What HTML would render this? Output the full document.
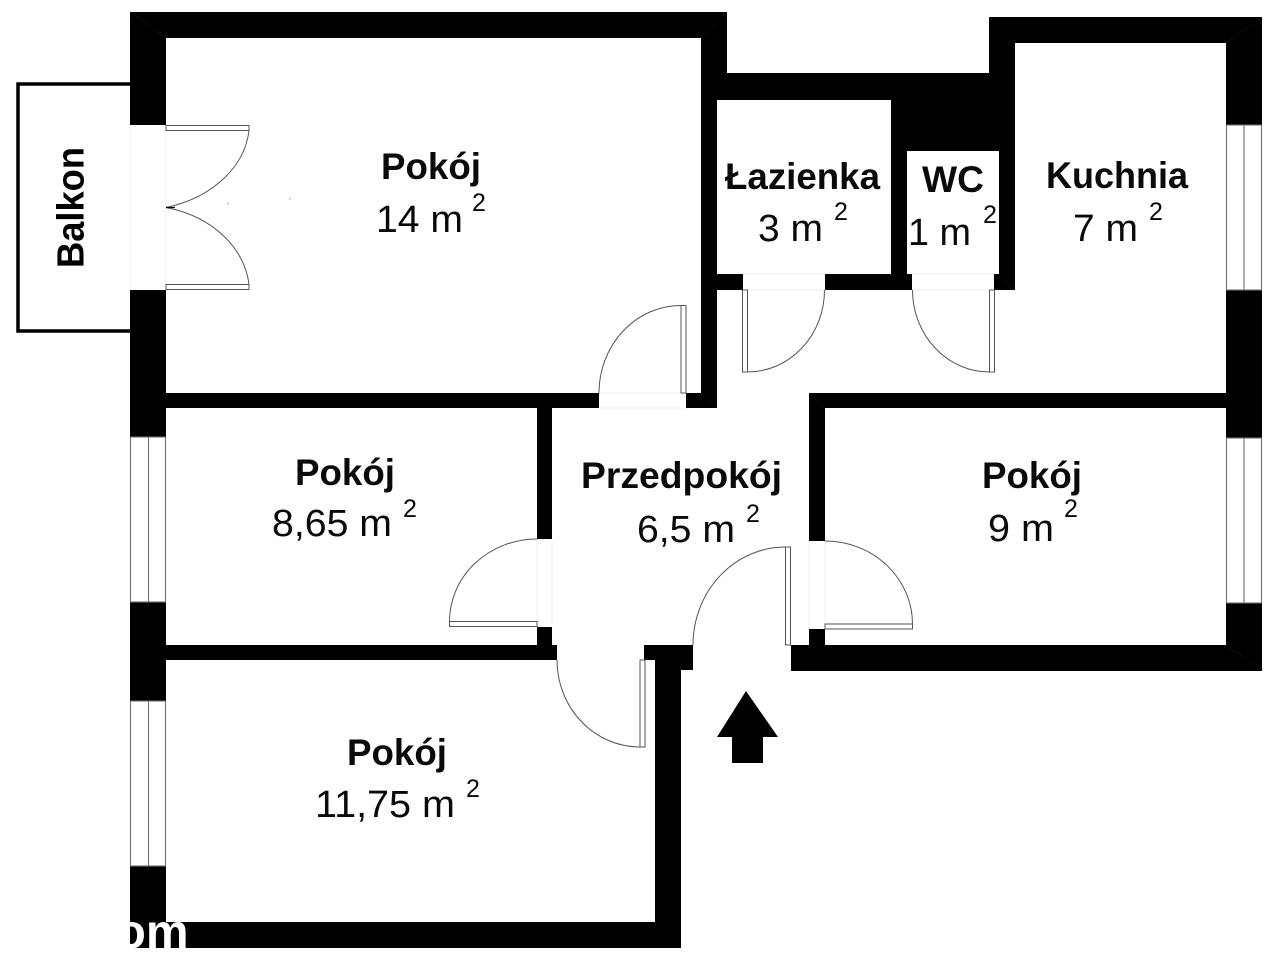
<!DOCTYPE html>
<html lang="pl">
<head>
<meta charset="utf-8">
<title>Rzut mieszkania</title>
<style>
html,body{margin:0;padding:0;background:#fff;width:1280px;height:960px;overflow:hidden}
svg{display:block}
text{font-family:"Liberation Sans",sans-serif;fill:#0a0a0a}
.b{font-weight:700;font-size:37px}
.n{font-size:38px}
.s{font-size:25px}
</style>
</head>
<body>
<svg width="1280" height="960" viewBox="0 0 1280 960" xmlns="http://www.w3.org/2000/svg">
<rect width="1280" height="960" fill="#fff"/>

<!-- balcony -->
<path d="M130 84H18V331H130" fill="none" stroke="#000" stroke-width="3.5"/>

<!-- walls -->
<g fill="#000">
<rect x="130" y="12" width="36" height="113"/>
<rect x="130" y="290" width="36" height="147"/>
<rect x="130" y="602" width="36" height="99"/>
<rect x="130" y="866" width="36" height="82"/>
<rect x="130" y="12" width="597" height="26"/>
<rect x="701" y="12" width="26" height="62"/>
<rect x="701" y="38" width="16" height="370"/>
<rect x="701" y="73" width="314" height="27"/>
<rect x="891" y="100" width="16" height="190"/>
<rect x="891" y="100" width="124" height="51"/>
<rect x="999" y="100" width="16" height="190"/>
<rect x="717" y="274" width="26" height="16"/>
<rect x="825" y="274" width="87" height="16"/>
<rect x="994" y="274" width="21" height="16"/>
<rect x="989" y="17" width="26" height="56"/>
<rect x="989" y="17" width="273" height="26"/>
<rect x="1226" y="17" width="36" height="108"/>
<rect x="1226" y="290" width="36" height="148"/>
<rect x="1226" y="603" width="36" height="68"/>
<rect x="791" y="645" width="471" height="26"/>
<rect x="809" y="393" width="417" height="15"/>
<rect x="809" y="393" width="16" height="148"/>
<rect x="809" y="629" width="16" height="16"/>
<rect x="166" y="393" width="433" height="15"/>
<rect x="686" y="393" width="31" height="15"/>
<rect x="537" y="393" width="15" height="146"/>
<rect x="537" y="627" width="15" height="18"/>
<rect x="166" y="645" width="391" height="15"/>
<rect x="644" y="645" width="49" height="15"/>
<rect x="681" y="645" width="12" height="25"/>
<rect x="655" y="645" width="26" height="303"/>
<rect x="130" y="922" width="551" height="26"/>
</g>

<!-- corner mitres -->
<g stroke="#1c1c1c" stroke-width="0.5" fill="none">
<path d="M130 12L166 38M727 12L701 38M989 17L1015 43M1262 17L1226 43M1262 670L1226 645M717 408L701 393M809 393L825 408M1015 290L999 274"/>
</g>

<!-- windows -->
<g stroke="#707070" stroke-width="1.1" fill="#fff">
<rect x="130.5" y="437" width="35" height="165"/>
<line x1="148.500" y1="437" x2="148.500" y2="602"/>
<rect x="130.5" y="701" width="35" height="165"/>
<line x1="148.500" y1="701" x2="148.500" y2="866"/>
<rect x="1226.500" y="125" width="35" height="165"/>
<line x1="1244" y1="125" x2="1244" y2="290"/>
<rect x="1226.500" y="438" width="35" height="165"/>
<line x1="1244" y1="438" x2="1244" y2="603"/>
</g>

<!-- faint door thresholds -->
<g stroke="#efefef" stroke-width="1" fill="none">
<line x1="130" y1="125" x2="130" y2="290"/>
<line x1="166" y1="125" x2="166" y2="290"/>
<line x1="599" y1="393" x2="686" y2="393"/>
<line x1="599" y1="408" x2="686" y2="408"/>
<line x1="743" y1="274" x2="825" y2="274"/>
<line x1="743" y1="290" x2="825" y2="290"/>
<line x1="912" y1="274" x2="994" y2="274"/>
<line x1="912" y1="290" x2="994" y2="290"/>
<line x1="537" y1="539" x2="537" y2="627"/>
<line x1="552" y1="539" x2="552" y2="627"/>
<line x1="809" y1="541" x2="809" y2="629"/>
<line x1="825" y1="541" x2="825" y2="629"/>
</g>

<!-- doors -->
<g stroke="#555" stroke-width="1" fill="none">
<rect x="166" y="125.500" width="83" height="5" fill="#fff"/>
<rect x="166" y="284.500" width="83" height="5" fill="#fff"/>
<path d="M249 130.500C245 165 215 197 166 207.500M249 284.500C245 250 215 217 166 207.500"/>
<path d="M166 207.500H175" stroke="#000" stroke-width="1.2"/>

<rect x="681" y="305.500" width="5" height="87.500" fill="#fff"/>
<path d="M681 305.500A82 87.500 0 0 0 599 393"/>

<rect x="742.500" y="290" width="5" height="82" fill="#fff"/>
<path d="M747.500 372A77 82 0 0 0 824.500 290"/>

<rect x="989.500" y="290" width="5" height="82" fill="#fff"/>
<path d="M989.500 372A77 82 0 0 1 912.500 290"/>

<rect x="449.500" y="621.500" width="87.500" height="5" fill="#fff"/>
<path d="M449.500 621.500A87.500 82.500 0 0 1 537 539"/>

<rect x="825" y="624" width="87.500" height="5" fill="#fff"/>
<path d="M912.500 624A87.500 83 0 0 0 825 541"/>

<rect x="785.500" y="547" width="5" height="98" fill="#fff"/>
<path d="M785.500 547A92.500 98 0 0 0 693 645"/>

<rect x="640" y="660" width="5" height="87" fill="#fff"/>
<path d="M640 747A83 87 0 0 1 557 660"/>
</g>

<!-- entrance arrow -->
<path d="M746 691L778 737H763V763H732V737H717Z" fill="#000"/>

<!-- specks -->
<g fill="#888">
<rect x="227.500" y="203" width="1" height="1.500"/>
<rect x="289.500" y="198" width="1" height="1.500"/>
</g>

<!-- labels -->
<text class="b" x="381" y="179" textLength="100" lengthAdjust="spacingAndGlyphs">Pokój</text>
<text class="n" x="376" y="232" textLength="87" lengthAdjust="spacingAndGlyphs">14 m</text>
<text class="s" x="472" y="211">2</text>

<text class="b" x="295" y="485" textLength="100" lengthAdjust="spacingAndGlyphs">Pokój</text>
<text class="n" x="272" y="536" textLength="120" lengthAdjust="spacingAndGlyphs">8,65 m</text>
<text class="s" x="403" y="517">2</text>

<text class="b" x="347" y="765" textLength="100" lengthAdjust="spacingAndGlyphs">Pokój</text>
<text class="n" x="315" y="817" textLength="140" lengthAdjust="spacingAndGlyphs">11,75 m</text>
<text class="s" x="466" y="797">2</text>

<text class="b" x="581" y="488" textLength="201" lengthAdjust="spacingAndGlyphs">Przedpokój</text>
<text class="n" x="637" y="542" textLength="98" lengthAdjust="spacingAndGlyphs">6,5 m</text>
<text class="s" x="746" y="522">2</text>

<text class="b" x="982" y="488" textLength="100" lengthAdjust="spacingAndGlyphs">Pokój</text>
<text class="n" x="988" y="541" textLength="66" lengthAdjust="spacingAndGlyphs">9 m</text>
<text class="s" x="1064" y="517">2</text>

<text class="b" x="725" y="189" textLength="155" lengthAdjust="spacingAndGlyphs">Łazienka</text>
<text class="n" x="758" y="241" textLength="65" lengthAdjust="spacingAndGlyphs">3 m</text>
<text class="s" x="834" y="220">2</text>

<text class="b" x="922" y="192" textLength="62" lengthAdjust="spacingAndGlyphs">WC</text>
<text class="n" x="908" y="245" textLength="63" lengthAdjust="spacingAndGlyphs">1 m</text>
<text class="s" x="983" y="223">2</text>

<text class="b" x="1046" y="188" textLength="142" lengthAdjust="spacingAndGlyphs">Kuchnia</text>
<text class="n" x="1073" y="241" textLength="65" lengthAdjust="spacingAndGlyphs">7 m</text>
<text class="s" x="1149" y="220">2</text>

<text transform="translate(83.500 268) rotate(-90)" x="0" y="0" textLength="121" lengthAdjust="spacingAndGlyphs" style="fill:#000;font-weight:700;font-size:38px">Balkon</text>

<!-- watermark fragment -->
<text x="116.500" y="948" style="font-size:48px;font-weight:700;fill:#fff">om</text>
</svg>
</body>
</html>
